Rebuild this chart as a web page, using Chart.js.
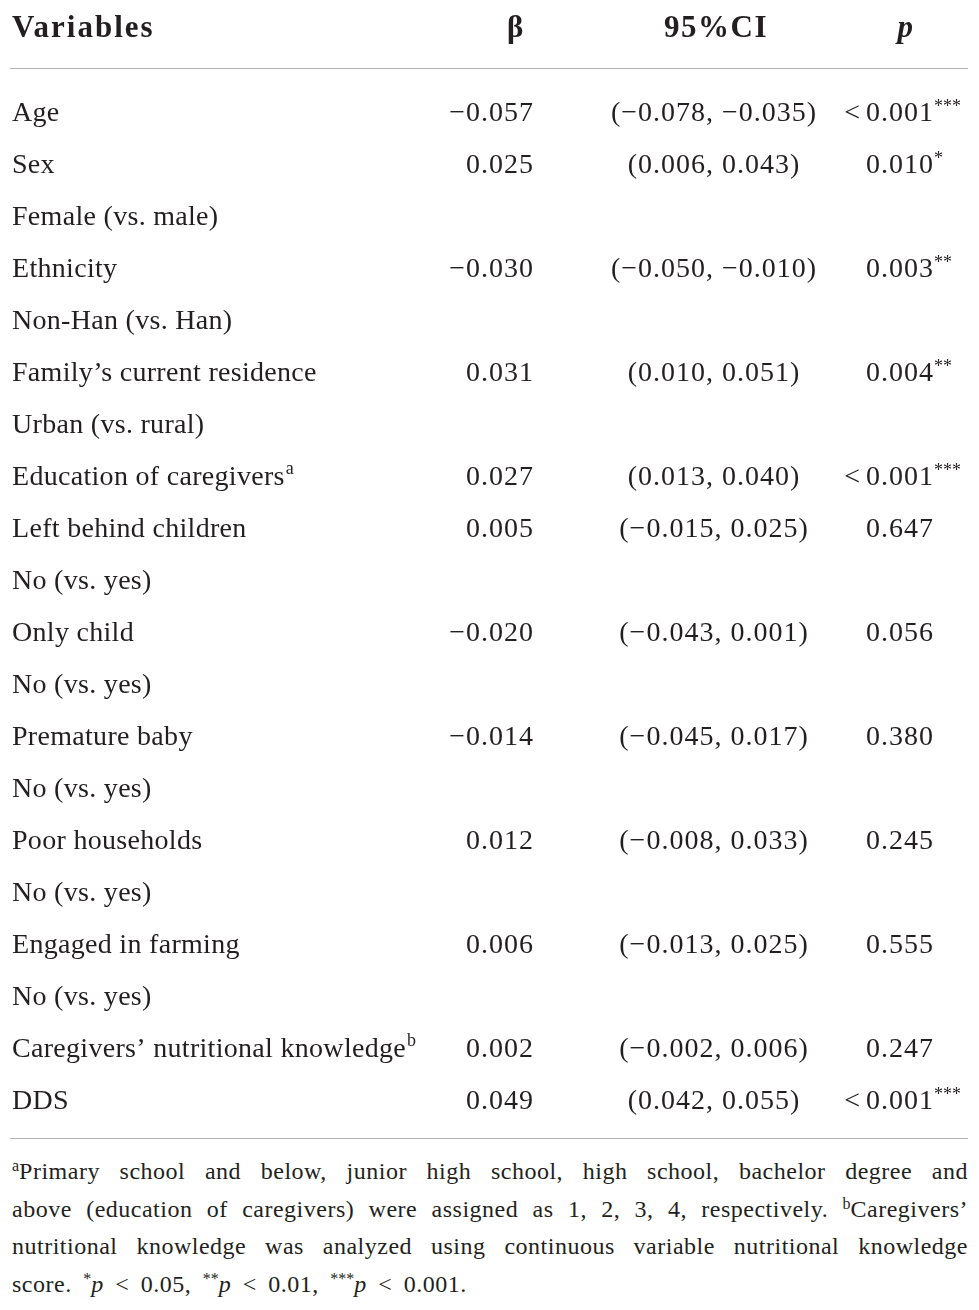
<!DOCTYPE html>
<html>
<head>
<meta charset="utf-8">
<script src="https://cdn.jsdelivr.net/npm/chart.js@4.4.1/dist/chart.umd.min.js"></script>
<style>
  body { margin: 0; background: #fff; }
  #wrap { position: relative; width: 979px; height: 1310px; }
  #tableau { position: absolute; left: 0; top: 0; }
  #notes {
    position: absolute; left: 12px; top: 1153px; width: 956px;
    font-family: "Liberation Serif", serif; font-size: 24px; line-height: 37.5px; color: #231f20;
    letter-spacing: 0.5px;
  }
  #notes div { text-align: justify; text-align-last: justify; white-space: nowrap; }
  #notes div.last { text-align-last: left; word-spacing: 5px; }
  #notes sup { font-size: 16px; vertical-align: 8px; line-height: 0; letter-spacing: 0; }
</style>
</head>
<body>
<div id="wrap">
  <canvas id="tableau" width="979" height="1140"></canvas>
  <div id="notes">
    <div><sup>a</sup>Primary school and below, junior high school, high school, bachelor degree and</div>
    <div>above (education of caregivers) were assigned as 1, 2, 3, 4, respectively. <sup>b</sup>Caregivers’</div>
    <div>nutritional knowledge was analyzed using continuous variable nutritional knowledge</div>
    <div class="last">score. <sup>*</sup><i>p</i> &lt; 0.05, <sup>**</sup><i>p</i> &lt; 0.01, <sup>***</sup><i>p</i> &lt; 0.001.</div>
  </div>
</div>
<script>
// Données du tableau (une ligne par entrée, null = ligne de modalité sans valeurs)
const variables = [
  "Age", "Sex", "Female (vs. male)", "Ethnicity", "Non-Han (vs. Han)",
  "Family’s current residence", "Urban (vs. rural)", "Education of caregivers",
  "Left behind children", "No (vs. yes)", "Only child", "No (vs. yes)",
  "Premature baby", "No (vs. yes)", "Poor households", "No (vs. yes)",
  "Engaged in farming", "No (vs. yes)", "Caregivers’ nutritional knowledge", "DDS"
];
const exposants = [null, null, null, null, null, null, null, "a", null, null, null, null,
  null, null, null, null, null, null, "b", null];
const beta = [-0.057, 0.025, null, -0.030, null, 0.031, null, 0.027, 0.005, null, -0.020, null,
  -0.014, null, 0.012, null, 0.006, null, 0.002, 0.049];
const ciBas = [-0.078, 0.006, null, -0.050, null, 0.010, null, 0.013, -0.015, null, -0.043, null,
  -0.045, null, -0.008, null, -0.013, null, -0.002, 0.042];
const ciHaut = [-0.035, 0.043, null, -0.010, null, 0.051, null, 0.040, 0.025, null, 0.001, null,
  0.017, null, 0.033, null, 0.025, null, 0.006, 0.055];
const pValeurs = ["0.001", "0.010", null, "0.003", null, "0.004", null, "0.001", "0.647", null,
  "0.056", null, "0.380", null, "0.245", null, "0.555", null, "0.247", "0.001"];
const pInferieur = [true, false, null, false, null, false, null, true, false, null,
  false, null, false, null, false, null, false, null, false, true];
const etoiles = ["***", "*", null, "**", null, "**", null, "***", "", null,
  "", null, "", null, "", null, "", null, "", "***"];
const entetes = ["Variables", "β", "95%CI", "p"];

const police = '"Liberation Serif", serif';
const encre = "#231f20";

// format avec le vrai signe moins
function fmt(v) {
  return v.toFixed(3).replace("-", "\u2212");
}

const pluginTableau = {
  id: "tableau",
  afterDatasetsDraw(chart) {
    const ctx = chart.ctx;
    const y = chart.scales.y;
    ctx.save();
    ctx.fillStyle = encre;
    ctx.textBaseline = "alphabetic";

    // en-têtes
    ctx.font = "bold 31px " + police;
    ctx.letterSpacing = "2px";
    ctx.textAlign = "left";
    ctx.fillText(entetes[0], 12, 37);
    ctx.letterSpacing = "1.5px";
    ctx.textAlign = "center";
    ctx.fillText(entetes[1], 516, 37);
    ctx.fillText(entetes[2], 716, 37);
    ctx.font = "italic bold 31px " + police;
    ctx.fillText(entetes[3], 906, 37);

    // filets
    ctx.strokeStyle = "#b4b4b4";
    ctx.lineWidth = 1;
    ctx.beginPath();
    ctx.moveTo(10, 68.5); ctx.lineTo(968, 68.5);
    ctx.moveTo(10, 1138.5); ctx.lineTo(968, 1138.5);
    ctx.stroke();

    // lignes du tableau
    for (let i = 0; i < variables.length; i++) {
      const base = y.getPixelForValue(i) + 9;
      ctx.font = "28px " + police;
      ctx.letterSpacing = "0.3px";
      ctx.textAlign = "left";
      ctx.fillText(variables[i], 12, base);
      if (exposants[i]) {
        const w = ctx.measureText(variables[i]).width;
        ctx.font = "18px " + police;
        ctx.fillText(exposants[i], 12 + w + 1, base - 11);
      }
      if (beta[i] === null) continue;
      ctx.font = "28px " + police;
      ctx.letterSpacing = "1px";
      ctx.textAlign = "right";
      ctx.fillText(fmt(beta[i]), 534, base);
      ctx.textAlign = "center";
      ctx.fillText("(" + fmt(ciBas[i]) + ", " + fmt(ciHaut[i]) + ")", 714, base);
      ctx.textAlign = "left";
      ctx.fillText(pValeurs[i], 866, base);
      if (pInferieur[i]) {
        ctx.textAlign = "right";
        ctx.fillText("<", 861, base);
        ctx.textAlign = "left";
      }
      if (etoiles[i]) {
        const w = ctx.measureText(pValeurs[i]).width;
        ctx.font = "18px " + police;
        ctx.letterSpacing = "0px";
        ctx.fillText(etoiles[i], 866 + w, base - 9);
      }
    }
    ctx.restore();
  }
};

const config = {
  type: "bar",
  data: {
    labels: variables,
    datasets: [{ data: variables.map(() => null) }]
  },
  options: {
    indexAxis: "y",
    responsive: false,
    animation: false,
    layout: { padding: { top: 86, bottom: 14, left: 0, right: 0 } },
    plugins: { legend: { display: false }, tooltip: { enabled: false } },
    scales: {
      x: { display: false, min: 0, max: 1 },
      y: { display: false, offset: true }
    }
  },
  plugins: [pluginTableau]
};

new Chart(document.getElementById("tableau"), config);
</script>
</body>
</html>
